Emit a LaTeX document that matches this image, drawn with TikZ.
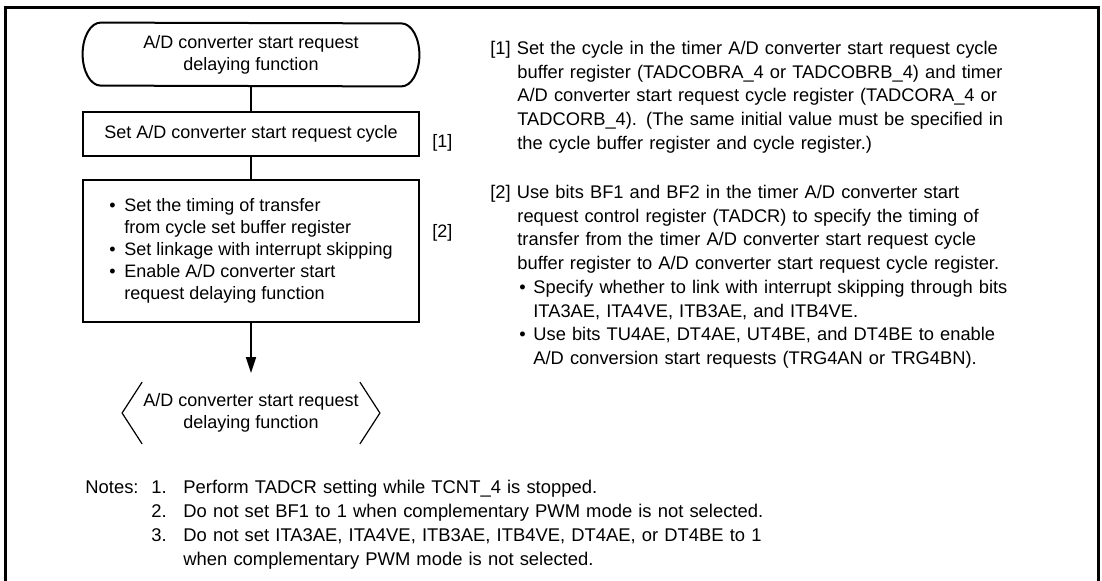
\documentclass[tikz,border=0pt]{standalone}
\usepackage{fontspec}
\setmainfont{Liberation Sans}
\usetikzlibrary{positioning,arrows.meta}

\newcommand{\bul}{\makebox[7.5pt][l]{\textbullet}}
\newcommand{\ind}{\hspace*{7.5pt}}
\newcommand{\hind}{\hspace*{13.5pt}}
\newcommand{\sbul}{\makebox[8pt][l]{\hspace{1pt}\textbullet}}

\tikzset{
  boxline/.style={line width=1pt},
  conn/.style={line width=0.8pt},
  procbox/.style={draw, line width=1pt, minimum width=168pt, inner sep=0pt,
    align=center, font=\fontsize{9}{11}\selectfont},
  termtext/.style={inner sep=0pt, align=center, font=\fontsize{9}{11}\selectfont},
  desc/.style={inner sep=0pt, text width=290pt, align=left,
    font=\fontsize{9.15}{11.85}\selectfont},
}

\begin{document}
\begin{tikzpicture}[x=0.5pt, y=-0.5pt]
  \useasboundingbox (0,0) rectangle (1102,580);
  % frame
  \draw[line width=1.5pt] (5,590) -- (5,7) -- (1098,7) -- (1098,590);

  % flowchart
  \node[termtext, minimum width=168pt, minimum height=31.5pt] (start) at (251,54.5) {A/D converter start request\\delaying function};
  \draw[boxline] ([xshift=9pt]start.north west)
    arc[start angle=90, end angle=270, x radius=9pt, y radius=15.75pt]
    -- ([xshift=-9pt]start.south east)
    arc[start angle=-90, end angle=90, x radius=9pt, y radius=15.75pt] -- cycle;

  \node[procbox, minimum height=22pt] (cycle) at (251,134) {Set A/D converter start request cycle};
  \node[procbox, minimum height=71pt, align=left] (timing) at (251,251)
    {\bul Set the timing of transfer\\
     \ind from cycle set buffer register\\
     \bul Set linkage with interrupt skipping\\
     \bul Enable A/D converter start\\
     \ind request delaying function};

  \node[termtext, minimum width=128.5pt, minimum height=30.5pt] (finish) at (251,413) {A/D converter start request\\delaying function};
  \draw[line width=0.6pt] ([xshift=10pt]finish.north west) -- (finish.west) -- ([xshift=10pt]finish.south west);
  \draw[line width=0.6pt] ([xshift=-10pt]finish.north east) -- (finish.east) -- ([xshift=-10pt]finish.south east);

  \draw[conn] (start) -- (cycle);
  \draw[conn] (cycle) -- (timing);
  \draw[conn, -{Triangle[length=8pt, width=5pt]}, shorten >=4.5pt] (timing) -- (finish);

  % step labels
  \node[termtext, anchor=west] (tag1) at (432,143) {[1]};
  \node[termtext, anchor=west] (tag2) at (432,233) {[2]};

  % descriptions
  \node[desc, anchor=base west] (desc1) at (490,54.5)
    {[1] Set the cycle in the timer A/D converter start request cycle\\
     \hind buffer register (TADCOBRA\_4 or TADCOBRB\_4) and timer\\
     \hind A/D converter start request cycle register (TADCORA\_4 or\\
     \hind TADCORB\_4). (The same initial value must be specified in\\
     \hind the cycle buffer register and cycle register.)};
  \node[desc, anchor=base west] (desc2) at (490,198.5)
    {[2] Use bits BF1 and BF2 in the timer A/D converter start\\
     \hind request control register (TADCR) to specify the timing of\\
     \hind transfer from the timer A/D converter start request cycle\\
     \hind buffer register to A/D converter start request cycle register.\\
     \hind\sbul Specify whether to link with interrupt skipping through bits\\
     \hind\hspace*{8pt}ITA3AE, ITA4VE, ITB3AE, and ITB4VE.\\
     \hind\sbul Use bits TU4AE, DT4AE, UT4BE, and DT4BE to enable\\
     \hind\hspace*{8pt}A/D conversion start requests (TRG4AN or TRG4BN).};

  % notes
  \node[desc, text width=400pt, font=\fontsize{9.2}{12}\selectfont, anchor=base west] (notes) at (85,493.5)
    {\makebox[33pt][l]{Notes:}\makebox[16pt][l]{1.}Perform TADCR setting while TCNT\_4 is stopped.\\
     \hspace*{33pt}\makebox[16pt][l]{2.}Do not set BF1 to 1 when complementary PWM mode is not selected.\\
     \hspace*{33pt}\makebox[16pt][l]{3.}Do not set ITA3AE, ITA4VE, ITB3AE, ITB4VE, DT4AE, or DT4BE to 1\\
     \hspace*{49pt}when complementary PWM mode is not selected.};
\end{tikzpicture}
\end{document}
